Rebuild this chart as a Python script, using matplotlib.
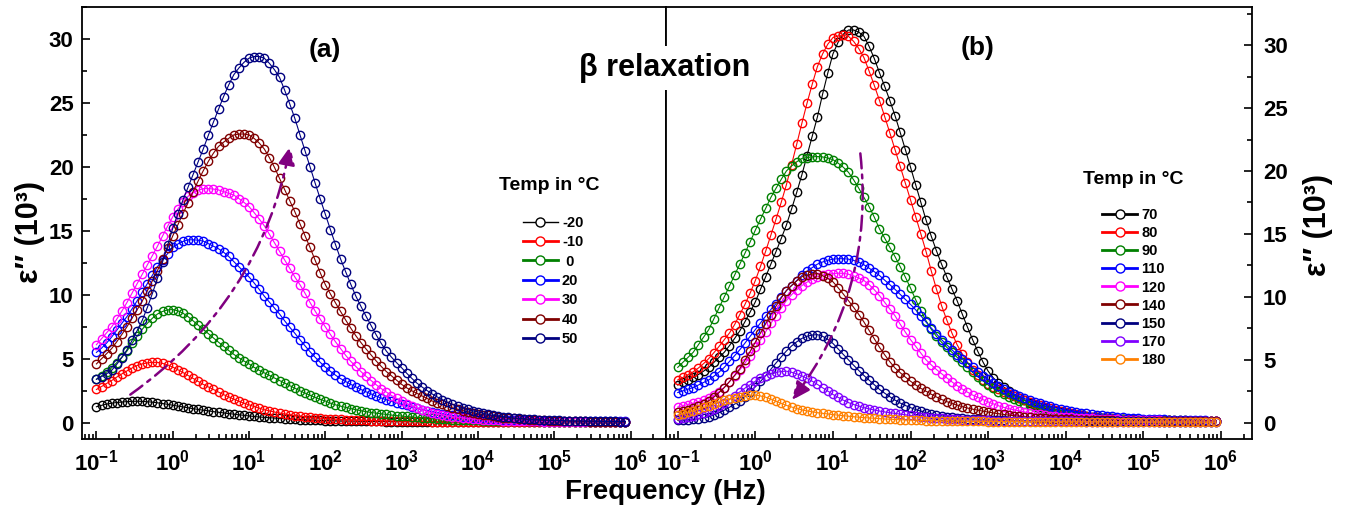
import numpy as np
import matplotlib
matplotlib.use('Agg')
import matplotlib.pyplot as plt
from matplotlib.lines import Line2D
from matplotlib.ticker import FixedLocator, LogLocator, MultipleLocator, FuncFormatter, NullFormatter

plt.rcParams['mathtext.fontset'] = 'custom'
plt.rcParams['mathtext.rm'] = 'Liberation Sans'
plt.rcParams['mathtext.bf'] = 'Liberation Sans:bold'

SANS = ['Liberation Sans', 'DejaVu Sans']

# measurement grid: 0.1 Hz .. ~0.86 MHz, 15 points per decade
freq = 10.0 ** (-1 + np.arange(105) / 15)
decades = [-1, 0, 1, 2, 3, 4, 5, 6]

# ---- panel (a): eps'' (10^3), one row per decade ----
temps_a = ['-20', '-10', ' 0', '20', '30', '40', '50']
colors_a = ['#000000', '#ff0000', '#008000', '#0000ff', '#ff00ff', '#800000', '#000080']

a_m20 = [1.25, 1.36, 1.46, 1.53, 1.58, 1.62, 1.65, 1.67, 1.68, 1.67, 1.64, 1.61, 1.56, 1.50, 1.44,
         1.37, 1.30, 1.24, 1.17, 1.10, 1.04, 0.98, 0.93, 0.87, 0.82, 0.77, 0.72, 0.67, 0.62, 0.58,
         0.53, 0.49, 0.45, 0.42, 0.39, 0.37, 0.34, 0.31, 0.29, 0.27, 0.25, 0.23, 0.21, 0.20, 0.18,
         0.17, 0.16, 0.15, 0.14, 0.13, 0.13, 0.12, 0.11, 0.11, 0.10, 0.10, 0.10, 0.09, 0.09, 0.09,
         0.08, 0.08, 0.08, 0.08, 0.07, 0.07, 0.07, 0.07, 0.07, 0.06, 0.06, 0.06, 0.06, 0.06, 0.06,
         0.06, 0.06, 0.05, 0.05, 0.05, 0.05, 0.05, 0.05, 0.05, 0.05, 0.05, 0.05, 0.05, 0.05, 0.05,
         0.04, 0.04, 0.04, 0.04, 0.04, 0.04, 0.04, 0.04, 0.04, 0.04, 0.04, 0.04, 0.04, 0.04, 0.04]
a_m10 = [2.60, 2.83, 3.07, 3.30, 3.57, 3.82, 4.05, 4.28, 4.47, 4.60, 4.68, 4.72, 4.72, 4.64, 4.52,
         4.35, 4.15, 3.93, 3.70, 3.47, 3.23, 3.00, 2.80, 2.60, 2.40, 2.20, 2.02, 1.85, 1.68, 1.53,
         1.40, 1.27, 1.14, 1.02, 0.93, 0.84, 0.76, 0.69, 0.62, 0.56, 0.51, 0.46, 0.42, 0.39, 0.36,
         0.33, 0.30, 0.28, 0.26, 0.24, 0.22, 0.21, 0.20, 0.18, 0.17, 0.16, 0.15, 0.14, 0.13, 0.13,
         0.12, 0.11, 0.11, 0.10, 0.10, 0.10, 0.09, 0.09, 0.09, 0.08, 0.08, 0.08, 0.08, 0.07, 0.07,
         0.07, 0.07, 0.07, 0.07, 0.06, 0.06, 0.06, 0.06, 0.06, 0.06, 0.06, 0.06, 0.06, 0.06, 0.05,
         0.05, 0.05, 0.05, 0.05, 0.05, 0.05, 0.05, 0.05, 0.05, 0.05, 0.05, 0.05, 0.05, 0.05, 0.05]
a_0 = [3.40, 3.67, 3.97, 4.30, 4.70, 5.13, 5.60, 6.20, 6.77, 7.30, 7.77, 8.17, 8.50, 8.70, 8.82,
       8.85, 8.75, 8.57, 8.30, 7.97, 7.63, 7.30, 6.97, 6.63, 6.30, 5.97, 5.65, 5.35, 5.08, 4.83,
       4.60, 4.33, 4.10, 3.90, 3.70, 3.50, 3.30, 3.10, 2.90, 2.70, 2.50, 2.32, 2.15, 1.98, 1.83,
       1.70, 1.53, 1.40, 1.30, 1.20, 1.11, 1.02, 0.94, 0.87, 0.80, 0.75, 0.70, 0.65, 0.60, 0.56,
       0.52, 0.49, 0.45, 0.42, 0.39, 0.37, 0.34, 0.31, 0.29, 0.27, 0.25, 0.23, 0.22, 0.21, 0.19,
       0.18, 0.17, 0.16, 0.15, 0.14, 0.14, 0.13, 0.12, 0.12, 0.11, 0.10, 0.10, 0.10, 0.09, 0.09,
       0.09, 0.09, 0.08, 0.08, 0.08, 0.08, 0.08, 0.08, 0.08, 0.07, 0.07, 0.07, 0.07, 0.07, 0.07]
a_20 = [5.50, 5.83, 6.23, 6.70, 7.23, 7.77, 8.30, 8.90, 9.53, 10.20, 10.87, 11.53, 12.20, 12.73, 13.23,
        13.70, 13.97, 14.17, 14.30, 14.30, 14.27, 14.20, 14.00, 13.80, 13.60, 13.33, 13.00, 12.60, 12.20, 11.80,
        11.40, 10.93, 10.43, 9.90, 9.43, 8.97, 8.50, 7.97, 7.47, 7.00, 6.50, 6.02, 5.55, 5.12, 4.72,
        4.35, 4.02, 3.72, 3.45, 3.22, 3.00, 2.80, 2.60, 2.42, 2.25, 2.08, 1.93, 1.80, 1.67, 1.55,
        1.45, 1.35, 1.24, 1.12, 1.03, 0.94, 0.86, 0.78, 0.70, 0.63, 0.58, 0.53, 0.48, 0.44, 0.40,
        0.37, 0.34, 0.32, 0.29, 0.27, 0.25, 0.23, 0.21, 0.19, 0.18, 0.17, 0.16, 0.15, 0.14, 0.14,
        0.13, 0.13, 0.13, 0.12, 0.12, 0.12, 0.12, 0.11, 0.11, 0.11, 0.11, 0.11, 0.10, 0.10, 0.10]
a_30 = [6.10, 6.57, 7.03, 7.50, 8.10, 8.73, 9.40, 10.13, 10.87, 11.60, 12.33, 13.07, 13.80, 14.60, 15.37,
        16.10, 16.70, 17.23, 17.70, 17.97, 18.17, 18.30, 18.30, 18.27, 18.20, 18.07, 17.93, 17.80, 17.53, 17.23,
        16.90, 16.43, 15.93, 15.40, 14.73, 14.07, 13.40, 12.73, 12.07, 11.40, 10.80, 10.13, 9.40, 8.73, 8.10,
        7.50, 6.90, 6.33, 5.80, 5.27, 4.80, 4.40, 4.00, 3.63, 3.30, 2.97, 2.67, 2.40, 2.13, 1.90,
        1.70, 1.50, 1.32, 1.15, 1.02, 0.89, 0.78, 0.69, 0.61, 0.54, 0.48, 0.43, 0.38, 0.34, 0.30,
        0.27, 0.24, 0.22, 0.20, 0.18, 0.16, 0.15, 0.14, 0.13, 0.12, 0.11, 0.11, 0.10, 0.09, 0.09,
        0.08, 0.08, 0.08, 0.08, 0.08, 0.08, 0.07, 0.07, 0.07, 0.07, 0.07, 0.07, 0.07, 0.07, 0.07]
a_40 = [4.60, 5.00, 5.40, 5.80, 6.33, 6.90, 7.50, 8.17, 8.83, 9.50, 10.30, 11.10, 11.90, 12.77, 13.67,
        14.60, 15.47, 16.33, 17.20, 18.07, 18.90, 19.70, 20.43, 21.07, 21.60, 21.93, 22.23, 22.50, 22.57, 22.57,
        22.50, 22.23, 21.87, 21.40, 20.73, 19.97, 19.10, 18.23, 17.37, 16.50, 15.57, 14.63, 13.70, 12.70, 11.73,
        10.80, 10.07, 9.37, 8.70, 8.03, 7.40, 6.80, 6.27, 5.77, 5.30, 4.83, 4.40, 4.00, 3.67, 3.33,
        3.00, 2.73, 2.50, 2.30, 2.10, 1.90, 1.70, 1.57, 1.43, 1.30, 1.17, 1.05, 0.95, 0.86, 0.78,
        0.70, 0.63, 0.57, 0.50, 0.45, 0.41, 0.37, 0.34, 0.31, 0.28, 0.25, 0.23, 0.21, 0.19, 0.17,
        0.16, 0.15, 0.13, 0.12, 0.11, 0.11, 0.10, 0.09, 0.09, 0.08, 0.07, 0.07, 0.07, 0.06, 0.06]
a_50 = [3.40, 3.60, 3.83, 4.10, 4.57, 5.10, 5.70, 6.43, 7.20, 8.00, 9.00, 10.10, 11.30, 12.57, 13.87,
        15.20, 16.33, 17.40, 18.40, 19.40, 20.40, 21.40, 22.47, 23.50, 24.50, 25.50, 26.40, 27.20, 27.73, 28.17,
        28.50, 28.63, 28.63, 28.50, 28.10, 27.60, 27.00, 26.00, 24.93, 23.80, 22.53, 21.27, 20.00, 18.73, 17.50,
        16.30, 15.10, 13.93, 12.80, 11.80, 10.83, 9.90, 9.10, 8.33, 7.60, 6.87, 6.20, 5.60, 5.13, 4.70,
        4.30, 3.87, 3.47, 3.10, 2.80, 2.52, 2.25, 2.02, 1.80, 1.60, 1.43, 1.28, 1.15, 1.04, 0.94,
        0.85, 0.75, 0.66, 0.58, 0.51, 0.46, 0.42, 0.38, 0.34, 0.31, 0.28, 0.26, 0.24, 0.22, 0.20,
        0.19, 0.18, 0.16, 0.15, 0.14, 0.14, 0.13, 0.12, 0.12, 0.11, 0.10, 0.10, 0.10, 0.09, 0.09]

# ---- panel (b) ----
temps_b = ['70', '80', '90', '110', '120', '140', '150', '170', '180']
colors_b = ['#000000', '#ff0000', '#008000', '#0000ff', '#ff00ff', '#800000',
            '#000080', '#8000ff', '#ff8000']

b_70 = [3.00, 3.20, 3.40, 3.60, 3.83, 4.10, 4.40, 4.80, 5.20, 5.60, 6.13, 6.70, 7.30, 8.03, 8.80,
        9.60, 10.60, 11.60, 12.60, 13.60, 14.63, 15.70, 16.97, 18.30, 19.70, 21.23, 22.77, 24.30, 26.10, 27.77,
        29.30, 30.23, 30.87, 31.20, 31.20, 31.03, 30.70, 29.90, 28.93, 27.80, 26.73, 25.60, 24.40, 23.07, 21.70,
        20.30, 18.90, 17.50, 16.10, 14.83, 13.67, 12.60, 11.60, 10.63, 9.70, 8.63, 7.60, 6.60, 5.67, 4.83,
        4.10, 3.57, 3.15, 2.85, 2.55, 2.27, 2.00, 1.80, 1.60, 1.40, 1.27, 1.15, 1.05, 0.95, 0.86,
        0.78, 0.71, 0.64, 0.58, 0.53, 0.48, 0.44, 0.41, 0.38, 0.35, 0.32, 0.30, 0.28, 0.27, 0.25,
        0.24, 0.23, 0.22, 0.21, 0.20, 0.20, 0.19, 0.18, 0.18, 0.17, 0.17, 0.17, 0.16, 0.16, 0.16]
b_80 = [3.40, 3.60, 3.82, 4.05, 4.35, 4.70, 5.10, 5.57, 6.07, 6.60, 7.13, 7.80, 8.60, 9.40, 10.30,
        11.30, 12.43, 13.63, 14.90, 16.17, 17.50, 18.90, 20.50, 22.13, 23.80, 25.40, 26.90, 28.30, 29.30, 30.07,
        30.60, 30.73, 30.77, 30.70, 30.30, 29.73, 29.00, 27.93, 26.80, 25.60, 24.33, 23.03, 21.70, 20.37, 19.03,
        17.70, 16.37, 15.00, 13.60, 12.07, 10.63, 9.30, 8.17, 7.13, 6.20, 5.47, 4.80, 4.20, 3.80, 3.43,
        3.10, 2.87, 2.65, 2.45, 2.28, 2.12, 1.95, 1.78, 1.63, 1.50, 1.38, 1.26, 1.14, 1.03, 0.93,
        0.84, 0.75, 0.67, 0.60, 0.54, 0.49, 0.44, 0.40, 0.36, 0.33, 0.30, 0.28, 0.26, 0.24, 0.22,
        0.21, 0.20, 0.20, 0.19, 0.18, 0.18, 0.17, 0.17, 0.17, 0.16, 0.16, 0.16, 0.15, 0.15, 0.15]
b_90 = [4.40, 4.80, 5.20, 5.60, 6.20, 6.80, 7.40, 8.27, 9.13, 10.00, 10.87, 11.73, 12.60, 13.47, 14.37,
        15.30, 16.17, 17.03, 17.90, 18.63, 19.33, 20.00, 20.40, 20.73, 21.00, 21.07, 21.12, 21.15, 21.12, 21.03,
        20.90, 20.63, 20.30, 19.90, 19.30, 18.63, 17.90, 17.17, 16.33, 15.40, 14.67, 13.93, 13.20, 12.40, 11.57,
        10.70, 9.77, 8.90, 8.10, 7.43, 6.87, 6.40, 6.00, 5.60, 5.20, 4.80, 4.40, 4.00, 3.67, 3.33,
        3.00, 2.73, 2.48, 2.25, 2.05, 1.87, 1.70, 1.53, 1.38, 1.25, 1.12, 1.00, 0.90, 0.81, 0.73,
        0.66, 0.60, 0.54, 0.49, 0.45, 0.41, 0.38, 0.35, 0.33, 0.30, 0.28, 0.26, 0.25, 0.24, 0.22,
        0.21, 0.20, 0.20, 0.19, 0.18, 0.18, 0.17, 0.16, 0.16, 0.16, 0.15, 0.15, 0.15, 0.15, 0.15]
b_110 = [2.40, 2.53, 2.67, 2.80, 3.00, 3.20, 3.40, 3.70, 4.03, 4.40, 4.87, 5.33, 5.80, 6.33, 6.87,
         7.40, 7.93, 8.47, 9.00, 9.47, 9.97, 10.50, 10.90, 11.30, 11.70, 12.03, 12.33, 12.60, 12.77, 12.90,
         13.00, 13.03, 13.03, 13.00, 12.90, 12.75, 12.55, 12.28, 12.00, 11.70, 11.33, 10.97, 10.60, 10.20, 9.80,
         9.40, 8.97, 8.50, 8.00, 7.53, 7.07, 6.60, 6.20, 5.80, 5.40, 5.07, 4.73, 4.40, 4.07, 3.75,
         3.45, 3.18, 2.92, 2.65, 2.45, 2.27, 2.10, 1.93, 1.78, 1.65, 1.54, 1.42, 1.30, 1.20, 1.10,
         1.00, 0.93, 0.87, 0.80, 0.74, 0.68, 0.63, 0.58, 0.54, 0.50, 0.47, 0.43, 0.40, 0.37, 0.35,
         0.33, 0.31, 0.29, 0.28, 0.26, 0.24, 0.23, 0.22, 0.21, 0.20, 0.19, 0.19, 0.18, 0.17, 0.17]
b_120 = [1.25, 1.35, 1.45, 1.55, 1.68, 1.82, 1.95, 2.18, 2.47, 2.80, 3.27, 3.73, 4.20, 4.73, 5.33,
         6.00, 6.60, 7.23, 7.90, 8.50, 9.10, 9.70, 10.17, 10.57, 10.90, 11.17, 11.40, 11.60, 11.73, 11.82,
         11.85, 11.88, 11.87, 11.80, 11.67, 11.50, 11.30, 10.97, 10.57, 10.10, 9.57, 9.03, 8.50, 7.83, 7.20,
         6.60, 6.07, 5.53, 5.00, 4.60, 4.23, 3.90, 3.57, 3.25, 2.95, 2.68, 2.43, 2.20, 2.02, 1.84,
         1.65, 1.50, 1.35, 1.22, 1.12, 1.03, 0.94, 0.86, 0.79, 0.72, 0.67, 0.62, 0.57, 0.53, 0.49,
         0.46, 0.43, 0.41, 0.38, 0.36, 0.34, 0.32, 0.30, 0.28, 0.27, 0.26, 0.24, 0.23, 0.22, 0.21,
         0.20, 0.19, 0.19, 0.18, 0.17, 0.17, 0.17, 0.16, 0.16, 0.16, 0.15, 0.15, 0.15, 0.15, 0.15]
b_140 = [0.85, 0.92, 1.02, 1.15, 1.32, 1.52, 1.75, 2.05, 2.40, 2.80, 3.27, 3.77, 4.30, 4.97, 5.67,
         6.40, 7.13, 7.87, 8.60, 9.27, 9.90, 10.50, 10.90, 11.27, 11.60, 11.73, 11.82, 11.85, 11.68, 11.47,
         11.20, 10.73, 10.23, 9.70, 9.17, 8.60, 8.00, 7.33, 6.67, 6.00, 5.40, 4.85, 4.35, 3.98, 3.63,
         3.30, 3.00, 2.73, 2.50, 2.27, 2.05, 1.85, 1.68, 1.53, 1.40, 1.28, 1.17, 1.08, 1.00, 0.92,
         0.85, 0.78, 0.72, 0.66, 0.61, 0.56, 0.51, 0.47, 0.43, 0.40, 0.37, 0.35, 0.32, 0.30, 0.28,
         0.27, 0.26, 0.24, 0.23, 0.22, 0.21, 0.20, 0.19, 0.19, 0.18, 0.17, 0.17, 0.16, 0.16, 0.16,
         0.15, 0.15, 0.15, 0.14, 0.14, 0.14, 0.14, 0.13, 0.13, 0.13, 0.13, 0.13, 0.13, 0.13, 0.13]
b_150 = [0.20, 0.21, 0.24, 0.27, 0.32, 0.39, 0.48, 0.63, 0.80, 1.00, 1.23, 1.48, 1.75, 2.08, 2.45,
         2.85, 3.28, 3.75, 4.25, 4.75, 5.23, 5.70, 6.10, 6.43, 6.70, 6.87, 6.97, 7.00, 6.87, 6.63,
         6.30, 5.87, 5.43, 5.00, 4.57, 4.15, 3.75, 3.38, 3.02, 2.65, 2.35, 2.07, 1.80, 1.57, 1.37,
         1.20, 1.05, 0.92, 0.80, 0.71, 0.62, 0.55, 0.49, 0.44, 0.39, 0.35, 0.32, 0.29, 0.26, 0.24,
         0.22, 0.21, 0.19, 0.18, 0.17, 0.17, 0.16, 0.15, 0.15, 0.14, 0.14, 0.14, 0.13, 0.13, 0.13,
         0.13, 0.12, 0.12, 0.12, 0.12, 0.12, 0.12, 0.12, 0.11, 0.11, 0.11, 0.11, 0.11, 0.11, 0.11,
         0.11, 0.11, 0.11, 0.10, 0.10, 0.10, 0.10, 0.10, 0.10, 0.10, 0.10, 0.10, 0.10, 0.10, 0.10]
b_170 = [0.33, 0.39, 0.46, 0.55, 0.66, 0.80, 0.95, 1.12, 1.32, 1.55, 1.85, 2.15, 2.45, 2.75, 3.03,
         3.30, 3.53, 3.73, 3.90, 4.00, 4.07, 4.10, 4.01, 3.89, 3.72, 3.52, 3.30, 3.05, 2.78, 2.52,
         2.25, 2.02, 1.80, 1.60, 1.45, 1.32, 1.20, 1.10, 1.01, 0.93, 0.86, 0.80, 0.74, 0.69, 0.63,
         0.58, 0.53, 0.48, 0.44, 0.41, 0.37, 0.34, 0.31, 0.29, 0.27, 0.25, 0.23, 0.22, 0.21, 0.19,
         0.18, 0.17, 0.17, 0.16, 0.15, 0.15, 0.14, 0.13, 0.13, 0.13, 0.12, 0.12, 0.12, 0.11, 0.11,
         0.11, 0.11, 0.11, 0.11, 0.10, 0.10, 0.10, 0.10, 0.10, 0.10, 0.10, 0.10, 0.09, 0.09, 0.09,
         0.09, 0.09, 0.09, 0.09, 0.09, 0.09, 0.08, 0.08, 0.08, 0.08, 0.08, 0.08, 0.08, 0.08, 0.08]
b_180 = [0.60, 0.70, 0.82, 0.95, 1.08, 1.22, 1.35, 1.52, 1.66, 1.78, 1.89, 1.99, 2.08, 2.14, 2.18,
         2.20, 2.13, 2.03, 1.88, 1.71, 1.54, 1.38, 1.25, 1.13, 1.02, 0.94, 0.87, 0.80, 0.75, 0.70,
         0.65, 0.60, 0.56, 0.52, 0.48, 0.44, 0.41, 0.38, 0.36, 0.33, 0.30, 0.28, 0.26, 0.24, 0.22,
         0.21, 0.20, 0.18, 0.17, 0.16, 0.16, 0.15, 0.14, 0.14, 0.13, 0.12, 0.12, 0.11, 0.11, 0.11,
         0.10, 0.10, 0.10, 0.09, 0.09, 0.09, 0.09, 0.09, 0.08, 0.08, 0.08, 0.08, 0.08, 0.08, 0.08,
         0.07, 0.07, 0.07, 0.07, 0.07, 0.07, 0.07, 0.07, 0.07, 0.07, 0.06, 0.06, 0.06, 0.06, 0.06,
         0.06, 0.06, 0.06, 0.06, 0.06, 0.06, 0.06, 0.06, 0.06, 0.05, 0.05, 0.05, 0.05, 0.05, 0.05]

series_a = [a_m20, a_m10, a_0, a_20, a_30, a_40, a_50]
series_b = [b_70, b_80, b_90, b_110, b_120, b_140, b_150, b_170, b_180]
for s in series_a + series_b:
    assert len(s) == len(freq), len(s)

W, H = 1346, 513
fig = plt.figure(figsize=(W / 100, H / 100), dpi=100)


def fx(px):
    return px / W


def fy(py):
    return 1 - py / H


ax1 = fig.add_axes([fx(82), fy(439), fx(666 - 82), fy(7) - fy(439)])
ax2 = fig.add_axes([fx(666), fy(439), fx(1252 - 666), fy(7) - fy(439)])

for ax, ys, cols in ((ax1, series_a, colors_a), (ax2, series_b, colors_b)):
    for y, c in zip(ys, cols):
        ax.plot(freq, y, '-', color=c, lw=0.8, marker='o', ms=6.0, mfc='none',
                mec=c, mew=1.0)
    ax.set_xscale('log')
    ax.xaxis.set_major_locator(FixedLocator([10.0 ** d for d in decades]))
    ax.xaxis.set_minor_locator(LogLocator(base=10, subs=range(2, 10), numticks=20))
    ax.xaxis.set_minor_formatter(NullFormatter())
    ax.xaxis.set_major_formatter(FuncFormatter(lambda v, p: r'$\mathbf{10^{%d}}$' % round(np.log10(v))))
    ax.yaxis.set_major_locator(MultipleLocator(5))
    ax.yaxis.set_minor_locator(MultipleLocator(2.5))
    ax.tick_params(which='both', direction='in', width=1.2, top=False)
    ax.tick_params(which='major', length=6)
    ax.tick_params(which='minor', length=3.5)
    ax.tick_params(axis='x', labelsize=16, pad=7)
    for s in ax.spines.values():
        s.set_linewidth(1.3)

ax1.set_xlim(10 ** -1.189, 10 ** 6.465)
ax1.set_ylim(-1.27, 32.5)
ax1.tick_params(right=False)
ax2.set_xlim(10 ** -1.151, 10 ** 6.40)
ax2.set_ylim(-1.29, 33.03)
ax2.yaxis.tick_right()
ax2.tick_params(left=False, which='both')
ax2.tick_params(axis='y', pad=8)
ax1.tick_params(axis='y', pad=6)
for lab in ax1.get_yticklabels() + ax2.get_yticklabels():
    lab.set_fontfamily(SANS)
    lab.set_fontweight('bold')
    lab.set_fontsize(16)

# arrows showing the trend of the peak
ax1.annotate('', xy=(10 ** 1.54, 21.6), xytext=(10 ** -0.556, 2.2),
             arrowprops=dict(arrowstyle='-|>,head_length=0.55,head_width=0.25',
                             connectionstyle='arc3,rad=0.2', color='#800080',
                             lw=1.8, linestyle=(0, (6, 2.5, 1.5, 2.5)),
                             mutation_scale=20, shrinkA=0, shrinkB=0))
ax2.annotate('', xy=(10 ** 0.473, 1.8), xytext=(10 ** 1.353, 21.4),
             arrowprops=dict(arrowstyle='-|>,head_length=0.55,head_width=0.25',
                             connectionstyle='arc3,rad=-0.2', color='#800080',
                             lw=1.8, linestyle=(0, (6, 2.5, 1.5, 2.5)),
                             mutation_scale=20, shrinkA=0, shrinkB=0))

# legends
leg_font = dict(family=SANS, weight='bold', size=10.5)
h_a = [Line2D([], [], color=c, lw=(1.0 if i == 0 else 2.0), marker='o', ms=6.5,
              mfc='white', mec=c, mew=1.0) for i, c in enumerate(colors_a)]
h_b = [Line2D([], [], color=c, lw=2.0, marker='o', ms=6.5,
              mfc='white', mec=c, mew=1.0) for c in colors_b]
ax1.legend(h_a, temps_a, loc='center', bbox_to_anchor=(fx(553), fy(281)),
           bbox_transform=fig.transFigure, frameon=False, prop=leg_font,
           handlelength=2.4, handletextpad=0.3, labelspacing=0.37, borderpad=0)
ax2.legend(h_b, temps_b, loc='center', bbox_to_anchor=(fx(1134), fy(287.5)),
           bbox_transform=fig.transFigure, frameon=False, prop=leg_font,
           handlelength=2.4, handletextpad=0.3, labelspacing=0.28, borderpad=0)
fig.text(fx(549), fy(186), 'Temp in °C', ha='center', va='center',
         family=SANS, weight='bold', fontsize=14)
fig.text(fx(1133), fy(180), 'Temp in °C', ha='center', va='center',
         family=SANS, weight='bold', fontsize=14)

# texts
fig.text(fx(325), fy(50), '(a)', ha='center', va='center', family=SANS,
         weight='bold', fontsize=19)
fig.text(fx(978), fy(48), '(b)', ha='center', va='center', family=SANS,
         weight='bold', fontsize=19)
fig.text(fx(665), fy(68), 'β relaxation', ha='center', va='center', family=SANS,
         weight='bold', fontsize=22,
         bbox=dict(facecolor='white', edgecolor='none', pad=5))
fig.text(fx(665), fy(492), 'Frequency (Hz)', ha='center', va='center',
         family=SANS, weight='bold', fontsize=20)
fig.text(fx(30), fy(232), 'ε\u2033 (10³)', ha='center', va='center', rotation=90,
         family=SANS, weight='bold', fontsize=22)
fig.text(fx(1318), fy(225), 'ε\u2033 (10³)', ha='center', va='center', rotation=90,
         family=SANS, weight='bold', fontsize=22)

fig.savefig('out.png', dpi=100)
